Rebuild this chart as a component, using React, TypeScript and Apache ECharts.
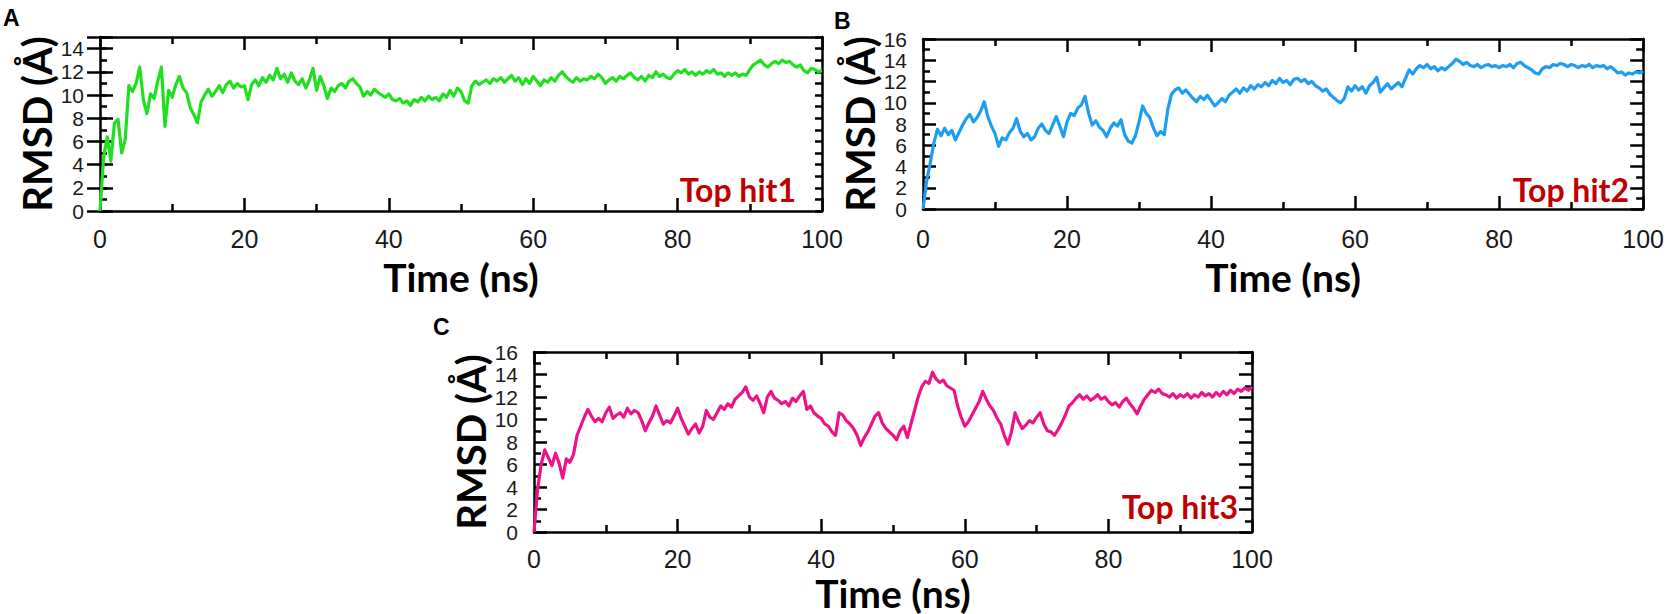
import React, { useEffect, useRef } from "react";
import * as echarts from "echarts";

// sampling step of the trajectories (ns)
const STEP_NS = 0.5;

// RMSD (Å) of Top hit1, every 0.5 ns from 0 to 100 ns
const HIT1_RMSD = [
  0, 4.6, 6.4, 4.3, 7.6, 7.9, 5.0, 6.2, 10.8, 10.3, 11.0, 12.4, 9.6, 8.4, 10.1, 9.7, 11.2, 12.4, 7.3, 10.4,
  9.8, 10.9, 11.6, 10.6, 10.2, 8.9, 8.3, 7.6, 9.4, 10.0, 10.5, 9.9, 10.3, 10.8, 10.2, 10.9, 11.2, 10.6, 11.0, 10.7,
  10.8, 9.6, 10.9, 11.3, 10.8, 11.5, 11.1, 11.7, 11.3, 12.3, 11.4, 11.8, 11.1, 11.9, 11.2, 10.9, 11.4, 10.6, 11.3, 12.3,
  10.4, 11.6, 10.8, 9.7, 10.6, 10.3, 10.8, 11.0, 10.6, 11.2, 11.4, 11.0, 10.7, 9.9, 10.3, 10.0, 10.5, 10.2, 10.0, 9.8,
  10.1, 9.6, 9.5, 9.7, 9.3, 9.5, 9.1, 9.6, 9.4, 9.8, 9.5, 9.9, 9.6, 9.8, 9.5, 10.1, 9.8, 10.4, 9.9, 10.6,
  10.3, 9.5, 9.3, 10.8, 11.2, 10.9, 11.1, 11.3, 11.0, 11.4, 11.2, 11.5, 11.1, 11.4, 11.7, 11.2, 11.5, 10.9, 11.4, 11.0,
  11.6, 11.2, 10.8, 11.3, 11.1, 11.5, 11.2, 11.7, 12.0, 11.6, 11.3, 11.1, 11.5, 11.2, 11.4, 11.3, 11.6, 11.4, 11.8, 11.5,
  11.0, 11.3, 11.5, 11.2, 11.6, 11.4, 11.7, 11.9, 11.5, 11.3, 11.6, 11.2, 11.7, 11.5, 12.0, 11.6, 11.8, 11.5, 11.4, 11.8,
  12.1, 11.9, 12.2, 11.8, 12.0, 11.7, 12.0, 11.8, 12.1, 11.9, 12.2, 11.8, 11.9, 11.6, 11.9, 11.7, 11.9, 11.6, 11.8, 11.7,
  12.2, 12.6, 12.8, 13.0, 12.6, 12.4, 12.7, 12.9, 12.7, 13.0, 12.8, 12.9, 12.6, 12.4, 12.6, 12.1, 11.9, 12.3, 12.2, 12.0,
  12.1,
];

// RMSD (Å) of Top hit2
const HIT2_RMSD = [
  0, 2.6, 4.3, 6.2, 7.5, 6.9, 7.6, 7.0, 7.4, 6.5, 7.2, 7.9, 8.5, 8.9, 8.2, 8.6, 9.2, 10.1, 8.7, 7.8,
  7.1, 5.9, 6.7, 6.5, 7.2, 7.6, 8.5, 7.3, 6.8, 7.1, 6.5, 6.8, 7.6, 8.0, 7.4, 7.1, 7.9, 8.7, 7.8, 6.8,
  8.2, 9.0, 8.8, 9.5, 9.8, 10.6, 9.0, 7.9, 8.3, 7.7, 7.4, 6.8, 7.6, 8.1, 7.8, 8.4, 7.0, 6.4, 6.2, 6.9,
  8.2, 9.7, 9.0, 8.6, 7.6, 6.9, 7.3, 7.0, 9.4, 10.8, 11.2, 11.4, 10.9, 11.2, 10.8, 10.4, 10.1, 10.6, 10.3, 10.7,
  10.2, 9.7, 10.0, 10.4, 10.1, 10.7, 11.0, 11.3, 10.9, 11.4, 11.1, 11.6, 11.3, 11.7, 11.5, 11.9, 11.6, 12.1, 11.8, 12.3,
  11.9, 12.1, 11.7, 12.2, 12.3, 12.0, 12.2, 11.8, 12.0, 11.6, 11.4, 11.1, 11.3, 10.8, 10.5, 10.2, 10.0, 10.4, 11.5, 11.1,
  11.6, 11.2, 11.5, 10.9, 11.6, 11.9, 12.4, 11.0, 11.4, 11.8, 11.3, 11.6, 11.9, 11.5, 12.3, 13.1, 12.7, 13.2, 13.5, 13.3,
  13.6, 13.2, 13.4, 13.0, 13.3, 13.1, 13.4, 13.7, 14.1, 13.9, 13.6, 13.8, 13.5, 13.4, 13.6, 13.3, 13.5, 13.6, 13.4, 13.5,
  13.3, 13.5, 13.4, 13.6, 13.3, 13.7, 13.8, 13.5, 13.3, 13.1, 12.8, 12.7, 13.2, 13.4, 13.3, 13.6, 13.5, 13.7, 13.6, 13.4,
  13.6, 13.5, 13.3, 13.5, 13.4, 13.6, 13.3, 13.5, 13.4, 13.5, 13.2, 13.4, 13.1, 12.8, 12.9, 12.6, 12.8, 12.7, 12.9, 12.8,
  13.0,
];

// RMSD (Å) of Top hit3
const HIT3_RMSD = [
  0, 3.8, 6.0, 7.3, 6.6, 5.9, 7.0, 6.1, 4.8, 6.5, 6.2, 6.9, 8.6, 9.4, 10.2, 10.9, 10.3, 9.8, 10.1, 9.8,
  10.6, 11.1, 10.1, 10.4, 10.6, 10.2, 11.0, 10.5, 10.8, 10.6, 9.9, 9.0, 9.7, 10.3, 11.2, 10.4, 9.6, 9.9, 9.7, 10.3,
  11.0, 10.1, 9.4, 8.7, 9.2, 9.6, 8.8, 9.4, 10.8, 10.2, 10.0, 10.6, 11.2, 10.9, 11.4, 11.1, 11.8, 12.1, 12.4, 12.9,
  12.0, 11.7, 12.1, 11.4, 10.6, 12.0, 12.5, 11.9, 11.7, 11.4, 11.6, 11.2, 11.9, 11.6, 12.1, 12.5, 10.9, 11.2, 10.6, 10.3,
  10.1, 9.6, 9.4, 8.9, 8.6, 10.6, 10.4, 9.9, 9.6, 9.2, 8.6, 7.7, 8.4, 8.9, 9.6, 10.3, 10.6, 9.7, 9.2, 8.9,
  8.6, 8.2, 9.0, 9.4, 8.4, 9.6, 10.8, 12.0, 12.9, 13.4, 13.2, 14.2, 13.6, 13.3, 13.5, 13.0, 12.8, 12.6, 11.2, 10.2,
  9.4, 9.8, 10.4, 11.0, 11.6, 12.5, 11.8, 11.2, 10.8, 10.1, 9.6, 8.6, 7.8, 8.9, 10.6, 9.8, 9.2, 9.5, 9.9, 9.7,
  10.2, 10.6, 9.6, 9.0, 8.9, 8.6, 9.1, 9.7, 10.4, 11.2, 11.5, 11.9, 12.2, 11.8, 12.1, 11.7, 11.9, 12.2, 11.8, 12.0,
  11.6, 11.3, 11.5, 11.1, 11.6, 11.9, 11.4, 11.0, 10.5, 11.2, 11.8, 12.2, 12.6, 12.4, 12.7, 12.3, 12.2, 12.0, 12.3, 11.9,
  12.2, 12.0, 12.3, 11.9, 12.2, 12.0, 12.4, 12.1, 12.3, 12.0, 12.4, 12.1, 12.5, 12.2, 12.6, 12.3, 12.7, 12.5, 12.8, 12.6,
  12.9,
];

const PANEL_LETTERS = ["A", "B", "C"];
const PANEL_TAGS = ["Top hit1", "Top hit2", "Top hit3"];
const Y_MAXES = [15, 16, 16];
const X_MIN = 0;
const X_MAX = 100;
const X_INTERVAL = 20;
const X_NAME = "Time (ns)";
const Y_NAME = "RMSD (Å)";

function toPairs(values: number[]) {
  return values.map((v, i) => [i * STEP_NS, v]);
}

const AXIS_COLOR = "#000";
const LINE_W = 2.5;
const LABEL_FONT = "'Liberation Sans', Arial, sans-serif";
const TITLE_FONT = "Lato, 'Open Sans', sans-serif";

export default function App() {
  const ref = useRef<HTMLDivElement>(null);

  useEffect(() => {
    document.body.style.margin = "0";
    const chart = echarts.init(ref.current!, null, { renderer: "svg" });

    const panels = [
      {
        grid: { left: 100, top: 37, width: 722, height: 174 },
        color: "#1EE01E",
        data: HIT1_RMSD,
        yNameGap: 40,
        xNameGap: 46,
        xLabelMargin: 15,
        letterPos: [3, 6],
        tagPos: [796, 173],
      },
      {
        grid: { left: 923, top: 39, width: 722, height: 170 },
        color: "#1E9EF2",
        data: HIT2_RMSD,
        yNameGap: 35,
        xNameGap: 48,
        xLabelMargin: 17,
        letterPos: [834, 9],
        tagPos: [1629, 173],
      },
      {
        grid: { left: 534, top: 352, width: 718, height: 180 },
        color: "#EE1289",
        data: HIT3_RMSD,
        yNameGap: 43,
        xNameGap: 41,
        xLabelMargin: 14,
        letterPos: [433, 315],
        tagPos: [1238, 490],
      },
    ];

    const grids: any[] = [];
    const xAxes: any[] = [];
    const yAxes: any[] = [];
    const series: any[] = [];
    const graphics: any[] = [];

    const tickStyle = { color: AXIS_COLOR, width: LINE_W };

    panels.forEach((p, i) => {
      const ymax = Y_MAXES[i];
      grids.push({ ...p.grid, containLabel: false });

      const xBase = {
        gridIndex: i,
        type: "value",
        min: X_MIN,
        max: X_MAX,
        interval: X_INTERVAL,
        axisLine: { show: true, onZero: false, lineStyle: { color: AXIS_COLOR, width: LINE_W } },
        axisTick: { show: true, inside: true, length: 13, lineStyle: tickStyle },
        minorTick: { show: true, splitNumber: 2, length: 7, lineStyle: tickStyle },
        splitLine: { show: false },
        minorSplitLine: { show: false },
      };
      const bottomIndex = xAxes.length;
      xAxes.push({
        ...xBase,
        position: "bottom",
        axisLabel: {
          show: true,
          fontFamily: LABEL_FONT,
          fontSize: 25,
          color: "#1a1a1a",
          margin: p.xLabelMargin,
        },
        name: X_NAME,
        nameLocation: "middle",
        nameGap: p.xNameGap,
        nameTextStyle: { fontFamily: TITLE_FONT, fontWeight: "bold", fontSize: 39, color: "#000" },
      });
      xAxes.push({ ...xBase, position: "top", axisLabel: { show: false } });

      const yLine = { show: true, onZero: false, lineStyle: { color: AXIS_COLOR, width: LINE_W } };
      const yLabel = {
        show: true,
        fontFamily: LABEL_FONT,
        fontSize: 21,
        lineHeight: 18,
        color: "#1a1a1a",
        margin: 16,
      };
      const yName = {
        name: Y_NAME,
        nameLocation: "middle",
        nameGap: p.yNameGap,
        nameRotate: 90,
        nameTextStyle: { fontFamily: TITLE_FONT, fontWeight: "bold", fontSize: 40, color: "#000" },
      };
      const leftIndex = yAxes.length;
      if (ymax % 2 === 0) {
        const yBase = {
          gridIndex: i,
          type: "value",
          min: 0,
          max: ymax,
          interval: 2,
          axisLine: yLine,
          axisTick: { show: true, inside: true, length: 13, lineStyle: tickStyle },
          minorTick: { show: true, splitNumber: 2, length: 7, lineStyle: tickStyle },
          splitLine: { show: false },
          minorSplitLine: { show: false },
        };
        yAxes.push({ ...yBase, position: "left", axisLabel: yLabel, ...yName });
        yAxes.push({ ...yBase, position: "right", axisLabel: { show: false } });
      } else {
        // odd max: unit ticks short, even ticks long
        const minorBase = {
          gridIndex: i,
          type: "value",
          min: 0,
          max: ymax,
          interval: 1,
          axisLine: yLine,
          axisTick: { show: true, inside: true, length: 7, lineStyle: tickStyle },
          splitLine: { show: false },
        };
        yAxes.push({
          ...minorBase,
          position: "left",
          axisLabel: {
            ...yLabel,
            formatter: (v: number) => (v % 2 === 0 ? String(v) : ""),
          },
          ...yName,
        });
        yAxes.push({ ...minorBase, position: "right", axisLabel: { show: false } });
        const majorBase = {
          gridIndex: i,
          type: "value",
          min: 0,
          max: ymax,
          interval: 2,
          axisLine: { show: false },
          axisTick: { show: true, inside: true, length: 13, lineStyle: tickStyle },
          axisLabel: { show: false },
          splitLine: { show: false },
        };
        yAxes.push({ ...majorBase, position: "left" });
        yAxes.push({ ...majorBase, position: "right" });
      }

      series.push({
        type: "line",
        xAxisIndex: bottomIndex,
        yAxisIndex: leftIndex,
        data: toPairs(p.data),
        showSymbol: false,
        symbol: "none",
        lineStyle: { color: p.color, width: 3.2, join: "round" },
        z: 1,
      });

      graphics.push({
        type: "text",
        x: p.letterPos[0],
        y: p.letterPos[1],
        style: {
          text: PANEL_LETTERS[i],
          fontFamily: LABEL_FONT,
          fontWeight: "bold",
          fontSize: 23,
          fill: "#000",
          textAlign: "left",
          textVerticalAlign: "top",
        },
      });
      graphics.push({
        type: "text",
        x: p.tagPos[0],
        y: p.tagPos[1],
        z: 10,
        style: {
          text: PANEL_TAGS[i],
          fontFamily: TITLE_FONT,
          fontWeight: "bold",
          fontSize: 32,
          fill: "#C00000",
          textAlign: "right",
          textVerticalAlign: "top",
        },
      });
    });

    chart.setOption({
      animation: false,
      backgroundColor: "#fff",
      grid: grids,
      xAxis: xAxes,
      yAxis: yAxes,
      series,
      graphic: graphics,
    });

    return () => chart.dispose();
  }, []);

  return (
    <div
      ref={ref}
      style={{ position: "absolute", left: 0, top: 0, width: 1667, height: 614 }}
    />
  );
}
